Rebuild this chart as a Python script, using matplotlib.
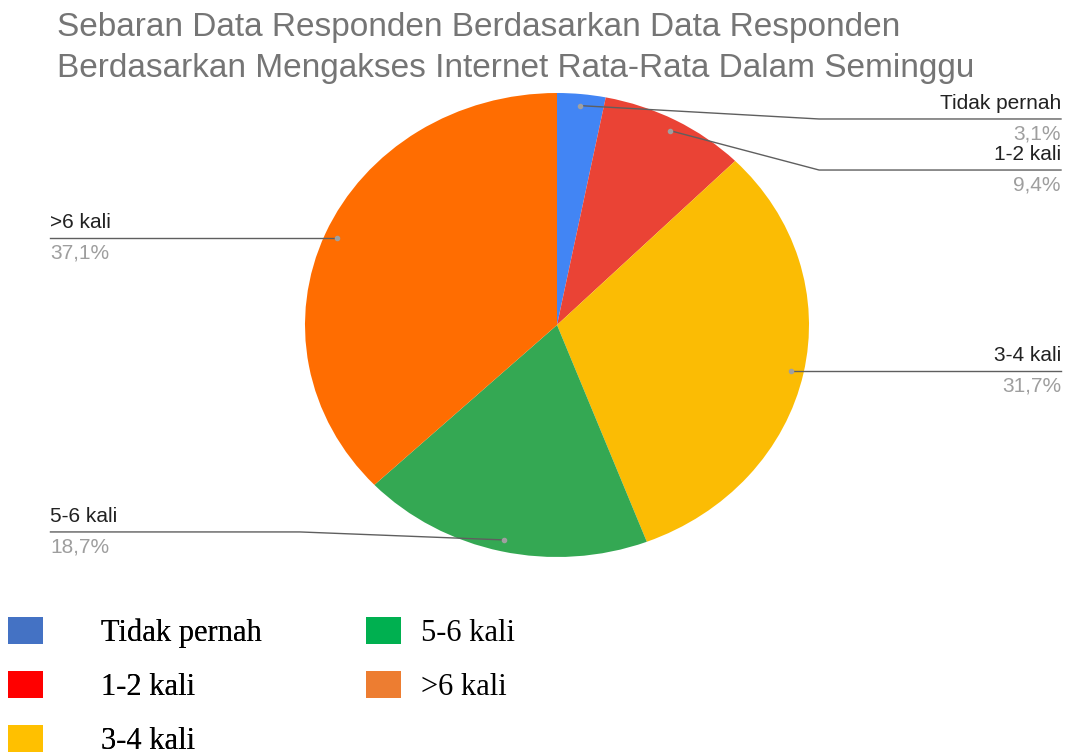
import numpy as np
import matplotlib
matplotlib.use('Agg')
from matplotlib import pyplot as plt
from matplotlib.patches import Patch

categories = ['Tidak pernah', '1-2 kali', '3-4 kali', '5-6 kali', '>6 kali']
percent = [3.1, 9.4, 31.7, 18.7, 37.1]
pct_labels = ['3,1%', '9,4%', '31,7%', '18,7%', '37,1%']
pie_colors = ['#4285F4', '#EA4335', '#FBBC04', '#34A853', '#FF6D01']
legend_colors = ['#4472C4', '#FF0000', '#FFC000', '#00B050', '#ED7D31']

title = ('Sebaran Data Responden Berdasarkan Data Responden\n'
         'Berdasarkan Mengakses Internet Rata-Rata Dalam Seminggu')

W, H = 1068, 755
fig = plt.figure(figsize=(W / 100, H / 100), dpi=100)


def px_box(x0, y0, x1, y1):
    # pixel box (top-left origin) -> figure fraction rect
    return [x0 / W, 1 - y1 / H, (x1 - x0) / W, (y1 - y0) / H]


# pie axes, a bit wider than tall like the original
ax = fig.add_axes(px_box(305, 93, 809, 557))
wedges, _ = ax.pie(percent, colors=pie_colors, startangle=90, counterclock=False,
                   radius=1, wedgeprops=dict(linewidth=0))
ax.set_aspect('auto')
ax.set_xlim(-1, 1)
ax.set_ylim(-1, 1)

# label layout: (side, y of the horizontal line, x of the elbow)
layout = {
    'Tidak pernah': ('right', 0.888, 1.04),
    '1-2 kali': ('right', 0.668, 1.04),
    '3-4 kali': ('right', None, None),
    '5-6 kali': ('left', -0.892, -1.02),
    '>6 kali': ('left', None, None),
}
x_right, x_left = 2.0, -2.01
line_col = '#5f5f5f'

for w, cat, pct in zip(wedges, categories, pct_labels):
    mid = np.deg2rad((w.theta1 + w.theta2) / 2)
    dx, dy = 0.95 * np.cos(mid), 0.95 * np.sin(mid)
    side, ly, ex = layout[cat]
    if ly is None:
        ly = dy
    xend = x_right if side == 'right' else x_left
    if ex is None:
        xs, ys = [dx, xend], [dy, ly]
    else:
        xs, ys = [dx, ex, xend], [dy, ly, ly]
    ax.plot(xs, ys, color=line_col, lw=1, clip_on=False)
    ax.plot(dx, dy, 'o', ms=3, color='#a0a0a0', clip_on=False)
    ha = 'right' if side == 'right' else 'left'
    ax.text(xend, ly + 0.025, cat, ha=ha, va='bottom', fontsize=15,
            color='#222222', family='Liberation Sans', clip_on=False)
    ax.text(xend, ly - 0.022, pct, ha=ha, va='top', fontsize=15,
            color='#9e9e9e', family='Liberation Sans', clip_on=False)

fig.text(57 / W, 1 - 12 / H, title, ha='left', va='top', fontsize=24,
         color='#757575', family='Liberation Sans', linespacing=1.4)

handles = [Patch(facecolor=c, edgecolor='none') for c in legend_colors]
leg_kw = dict(loc='upper left', frameon=False,
              prop={'family': 'Liberation Serif', 'size': 22},
              handlelength=1.15, handleheight=0.98, labelspacing=0.76,
              borderpad=0, borderaxespad=0)
leg1 = fig.legend(handles[:3], categories[:3], bbox_to_anchor=(8 / W, 1 - 617 / H),
                  handletextpad=1.9, **leg_kw)
fig.add_artist(leg1)
fig.legend(handles[3:], categories[3:], bbox_to_anchor=(366 / W, 1 - 617 / H),
           handletextpad=0.65, **leg_kw)

fig.savefig('out.png', dpi=100)
